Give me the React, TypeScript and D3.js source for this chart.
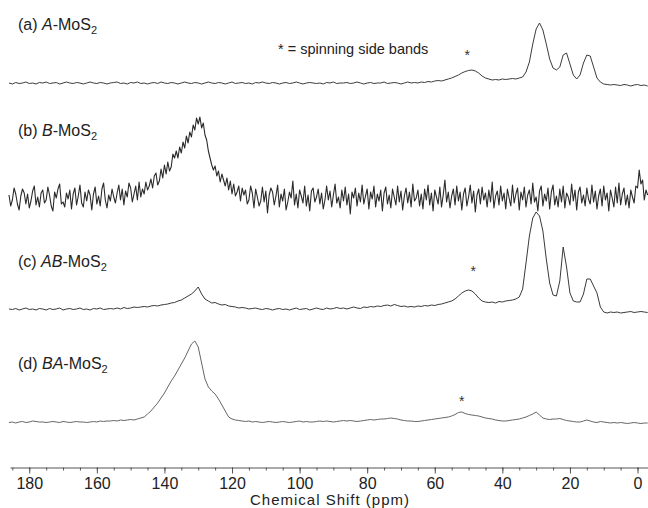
import React, { useEffect, useRef } from "react";
import * as d3 from "d3";

// x grids (ppm)
const ppm1 = d3.range(186, -4, -1); // 186 .. -3, step 1
const ppmHalf = d3.range(186, -3.25, -0.5); // 186 .. -3, step 0.5

// (a) A-MoS2 intensity (a.u.), ppm 186 -> -3 step 1
const seriesA = [
  1, 0, 1.5, 0.5, 1, 2, 0.5, 1, 0, 1.5,
  1, 2, 0.5, 1, 1.5, 0, 1, 2, 1, 0.5,
  1.5, 1, 0, 1, 2, 1, 0.5, 1.5, 1, 0,
  1, 1.5, 2, 0.5, 1, 0, 1.5, 1, 2, 0.5,
  1, 0, 1, 1.5, 0.5, 2, 1, 0.5, 1.5, 1,
  0, 1, 2, 1, 0.5, 1.5, 1, 0, 1, 2,
  1, 0.5, 1.5, 1, 0, 1, 2, 0.5, 1, 1.5,
  0.5, 1, 0, 1.5, 1, 2, 1, 0.5, 1.5, 1,
  0, 1, 1.5, 0.5, 1, 2, 1, 0, 1, 1.5,
  1, 0.5, 1, 0, 1.5, 1, 2, 0.5, 1, 1,
  1.5, 0.5, 1, 2, 1, 0, 1, 1.5, 0.5, 1,
  1, 2, 0.5, 1, 1.5, 1, 0, 1, 2, 1,
  1.5, 1, 2, 1.5, 2.5, 2, 3, 3.5, 3, 4,
  5, 6, 7.5, 9, 11, 12.5, 13.5, 14, 13, 11,
  8, 6, 5, 4, 4.5, 4, 5, 4.5, 5, 5.5,
  5, 6, 7, 12, 22, 40, 55, 61, 54, 40,
  25, 16, 14, 17, 29, 31, 20, 9, 5, 9,
  21, 29, 28, 17, 6, 2, 0, -0.5, -1, -0.5,
  -1, -1.5, -0.5, -1, -2, -1, -0.5, -1.5, -1, -2,
];

// (b) B-MoS2 intensity (a.u.), ppm 186 -> -3 step 0.5
const seriesB = [
  3, -8, -2, 10, 4, -6, -12, 2, 9, 5, -6, 4, -10, -3, 7, 12, -7, 1, -9, 5,
  8, -5, -2, 11, 3, -8, -13, 6, 0, 9, 14, -6, -4, -9, 5, -1, 8, -11, 4, 10,
  -7, 2, 13, -5, -9, 6, -3, 8, 3, -12, 4, 11, -6, 2, -8, 9, 15, -2, -10, 3,
  -3, 9, 1, -5, 5, 13, -2, 9, -7, 7, 1, 15, 10, -4, 4, 12, -2, 16, 1, 9,
  4, 16, 8, 12, 19, 10, 22, 25, 13, 17, 29, 20, 33, 24, 36, 27, 31, 44, 40, 47,
  40, 51, 45, 56, 50, 62, 55, 66, 61, 73, 68, 80, 74, 81, 70, 75, 63, 58, 47, 40,
  33, 28, 32, 22, 27, 16, 24, 18, 12, 20, 8, 17, 4, 14, 2, 6, 12, -3, 10, 3,
  8, -6, -2, 12, 5, -10, 9, 1, -8, -3, 11, -4, 7, -15, 3, 10, 6, -7, 2, 13,
  -9, 4, -3, 9, -12, -4, 6, 0, 17, -7, 4, -10, 8, 2, -5, 12, -8, 3, -13, 7,
  10, -4, 1, 9, -6, 5, -11, -2, 12, -2, 7, -9, 3, 14, -5, 1, -10, 8, -3, 11,
  -7, 4, -16, 6, 0, 10, -8, 5, -4, 13, -6, 2, 9, -11, 6, -1, 12, -9, 4, -3,
  8, -13, 5, 11, -6, 3, -10, 9, 1, -7, 12, -4, 7, -12, 2, 10, -5, 6, -9, 14,
  -3, 0, 8, -8, 4, -11, 9, -2, 13, -7, 5, -13, 8, 1, -6, 11, -9, 3, 18, -4,
  6, -10, 2, 9, -7, 12, -3, 6, -12, 4, 10, -8, 1, 13, -5, 7, -14, 3, 9, -6,
  11, -2, 5, -9, 8, -4, 16, -10, 2, 7, -7, 12, -3, 5, -11, 9, 0, -8, 13, -5,
  4, 10, -12, 6, -2, 11, -9, 3, 8, -6, 15, -4, 1, -13, 7, 12, -8, 4, -3, 10,
  -11, 6, 13, -7, 2, -9, 9, -4, 12, -10, 5, 1, -7, 14, -3, 8, -12, 6, 11, -5,
  3, -8, 10, -1, -6, 13, -4, 7, -11, 2, 9, -8, 12, -2, 5, -13, 8, 0, -9, 11,
  -5, 15, -7, 4, 10, -7, 3, -10, 8, 1, -5, 12, 10, 28, 14, 18, -2, 8, 3,
];

// (c) AB-MoS2 intensity (a.u.), ppm 186 -> -3 step 1
const seriesC = [
  2, 1.5, 2.5, 1, 2, 3, 1.5, 2, 1, 2.5,
  2, 1, 2.5, 1.5, 2, 3, 1, 2, 2.5, 1.5,
  2, 3, 1.5, 2, 1, 2.5, 2, 3, 1.5, 2,
  2.5, 2, 3, 2, 3.5, 2.5, 3, 4, 3.5, 4,
  4.5, 4, 5, 5.5, 5, 6, 6.5, 7, 8, 8.5,
  10, 11, 13, 15, 17, 20, 24, 17, 12, 10,
  8, 8.5, 7, 6, 6.5, 5, 4.5, 4, 3, 3.5,
  3, 2, 2.5, 3, 2, 1.5, 2.5, 2, 1, 2,
  2.5, 1.5, 2, 1, 2, 3, 1.5, 2, 2.5, 1,
  2, 3, 2, 1.5, 3, 2, 2.5, 3.5, 2.5, 3,
  2, 3, 4, 3, 2.5, 4, 3.5, 4.5, 4, 5,
  4.5, 5.5, 6, 5, 6.5, 5.5, 4.5, 5, 4, 4.5,
  4, 5, 4.5, 5.5, 5, 6, 5.5, 6.5, 7, 8,
  9, 10, 12, 15, 18, 20, 21, 20, 17, 13,
  10, 9, 8.5, 9, 8, 9.5, 9, 10, 10.5, 11,
  12, 14, 22, 48, 75, 93, 99, 95, 80, 52,
  28, 16, 15, 30, 64, 44, 18, 10, 9, 9,
  17, 32, 32, 25, 18, 4, -1, -2, -1, -1.5,
  -1, -2, -1.5, -1, -0.5, -1.5, -1, -0.5, -1, -1.5,
];

// (d) BA-MoS2 intensity (a.u.), ppm 186 -> -3 step 1
const seriesD = [
  0.5, 1, 0, 1, 1.5, 0.5, 1, 2, 1.5, 1,
  1, 0.5, 1, 1.5, 1, 0.5, 1.5, 1, 0.5, 1,
  1.5, 1, 1, 0.5, 1, 1.5, 1, 2, 1.5, 2,
  2, 2.5, 2, 3, 2.5, 3, 3.5, 3, 4, 5,
  6, 9, 12, 16, 20, 25, 30, 36, 42, 47,
  53, 59, 65, 72, 79, 82, 76, 60, 44, 36,
  32, 29, 24, 18, 12, 6, 4, 3, 2.5, 2,
  1.5, 2, 1, 1.5, 1, 0.5, 1, 1.5, 1, 0.5,
  1, 1.5, 1, 0.5, 1, 1.5, 2, 1, 1.5, 1,
  1, 1.5, 2, 1.5, 2, 1.5, 1, 1.5, 2, 2.5,
  2, 2.5, 2, 1.5, 2, 2.5, 3, 3.5, 3, 3.5,
  4, 4, 4.5, 5, 4.5, 4, 3, 2.5, 2, 2,
  1.5, 1.5, 2, 2.5, 3, 3.5, 4, 4.5, 5, 5.5,
  6, 7, 8.5, 10.5, 11, 9.5, 8.5, 8, 7.5, 7,
  6, 5, 4.5, 4, 3, 2.5, 2, 2, 2.5, 3,
  3.5, 4, 5, 6, 7.5, 9, 11, 8, 5, 4,
  3.5, 4, 4, 4.5, 3.5, 2.5, 2, 1.5, 1, 1,
  2, 3, 2, 1, 0.5, 1.5, 1, 0.5, 0, 0.5,
  0, 0.5, 0, -0.5, 0, 0.5, 0, -0.5, 0, 0,
];

const panelPrefixes = ["(a) ", "(b) ", "(c) ", "(d) "];
const panelItalics = ["A", "B", "AB", "BA"];
const sidebandPanels = [0, 2, 3];
const sidebandPpm = [50.4, 48.6, 52.0];
const majorTicks = [180, 160, 140, 120, 100, 80, 60, 40, 20, 0];
const minorTicks = d3.range(185, -1, -5);
const xLabel = "Chemical Shift (ppm)";
const legendText = "* = spinning side bands";

const W = 648;
const H = 508;
const FONT = "'Liberation Sans', Arial, Helvetica, sans-serif";

export default function App() {
  const axisRef = useRef<SVGGElement>(null);
  const x = d3.scaleLinear().domain([185.7, -3.1]).range([10, 648]);

  const panels = [
    { xs: ppm1, ys: seriesA, base: 84, color: "#3c3c3c", width: 1, labelY: 29.5 },
    { xs: ppmHalf, ys: seriesB, base: 198, color: "#2a2a2a", width: 1.1, labelY: 136 },
    { xs: ppm1, ys: seriesC, base: 311, color: "#3a3a3a", width: 1, labelY: 266.5 },
    { xs: ppm1, ys: seriesD, base: 423, color: "#666666", width: 1, labelY: 368.5 },
  ];
  const starOffset = [-11, 0, -18, -6];

  useEffect(() => {
    const g = d3.select(axisRef.current);
    g.selectAll("*").remove();
    const minor = d3.axisBottom(x).tickValues(minorTicks).tickSize(3).tickSizeOuter(0).tickFormat(() => "");
    const major = d3.axisBottom(x).tickValues(majorTicks).tickSize(6).tickSizeOuter(0).tickPadding(4).tickFormat(d3.format("d"));
    const gm = g.append("g").call(minor);
    gm.select(".domain").attr("stroke", "#555");
    gm.selectAll(".tick line").attr("stroke", "#555");
    const gM = g.append("g").call(major);
    gM.select(".domain").remove();
    gM.selectAll(".tick line").attr("stroke", "#555");
    gM.selectAll(".tick text")
      .attr("font-size", 16)
      .attr("font-family", FONT)
      .attr("fill", "#222");
  }, []);

  return (
    <svg
      width={W}
      height={H}
      style={{ position: "absolute", left: 0, top: 0, background: "#fff" }}
      fontFamily={FONT}
    >
      <rect width={W} height={H} fill="#fff" />
      {panels.map((p, i) => {
        const y = d3.scaleLinear().domain([0, 100]).range([p.base, p.base - 100]);
        const line = d3
          .line<number>()
          .x((_, k) => x(p.xs[k]))
          .y((v) => y(v));
        return (
          <g key={i}>
            <path d={line(p.ys) || ""} fill="none" stroke={p.color} strokeWidth={p.width} strokeLinejoin="round" />
            <text x={18} y={p.labelY} fontSize={16} fill="#222">
              {panelPrefixes[i]}
              <tspan fontStyle="italic">{panelItalics[i]}</tspan>
              <tspan>-MoS</tspan>
              <tspan fontSize={11} dy={4}>2</tspan>
            </text>
          </g>
        );
      })}
      {sidebandPanels.map((pi, k) => {
        const p = panels[pi];
        const y = d3.scaleLinear().domain([0, 100]).range([p.base, p.base - 100]);
        const idx = p.xs.findIndex((v) => v <= sidebandPpm[k]);
        return (
          <text
            key={k}
            x={x(sidebandPpm[k])}
            y={y(p.ys[idx]) + starOffset[pi]}
            fontSize={14}
            textAnchor="middle"
            fill="#333"
          >
            *
          </text>
        );
      })}
      <text x={278} y={54} fontSize={14.5} fill="#222">
        {legendText}
      </text>
      <g ref={axisRef} transform="translate(0,467.5)" />
      <text
        x={250}
        y={504.5}
        fontSize={15}
        textLength={159}
        lengthAdjust="spacing"
        fill="#222"
      >
        {xLabel}
      </text>
    </svg>
  );
}
